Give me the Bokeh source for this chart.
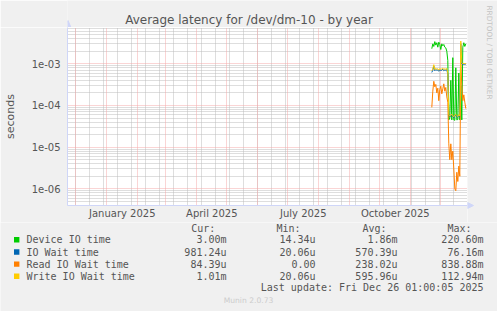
import math
from datetime import datetime, timedelta

import pandas as pd
from bokeh.plotting import figure
from bokeh.layouts import column, row
from bokeh.models import (FixedTicker, CustomJSTickFormatter, Range1d,
                          ColumnDataSource, Grid)
from bokeh.core.properties import value
from bokeh.embed import file_html
from bokeh.resources import INLINE

# ---------------- data ----------------
TITLE = "Average latency for /dev/dm-10 - by year"
Y_LABEL = "seconds"
LAST_UPDATE = "Last update: Fri Dec 26 01:00:05 2025"
VERSION = "Munin 2.0.73"
WATERMARK = "RRDTOOL / TOBI OETIKER"

dates = list(pd.date_range("2025-11-22", "2025-12-26", freq="D"))

device_io = [2.3e-3, 3.0e-3, 2.6e-3, 3.4e-3, 2.8e-3, 3.2e-3, 2.5e-3, 3.3e-3, 2.9e-3,
             2.2e-3, 3.0e-3, 2.7e-3, 2.9e-3, 2.5e-3, 2.4e-3, 2.0e-3, 1.2e-3, 4.5e-5,
             5.0e-5, 4.0e-4, 4.5e-5, 1.4e-3, 4.5e-5, 4.4e-5, 8.0e-4, 4.5e-5, 4.6e-5,
             6.0e-4, 4.5e-5, 3.0e-4, 4.5e-5, 2.5e-3, 3.2e-3, 2.6e-3, 3.0e-3]
io_wait = [6.2e-4, 7.0e-4, 8.8e-4, 6.8e-4, 7.3e-4, 7.0e-4, 7.1e-4, 6.6e-4, 7.2e-4,
           6.9e-4, 7.0e-4, 7.4e-4, 6.8e-4, 7.1e-4, 7.0e-4, 7.2e-4, 5.6e-4, 5.8e-5,
           5.3e-5, 5.6e-5, 6.0e-5, 5.4e-5, 5.1e-5, 5.7e-5, 5.9e-5, 5.5e-5, 5.2e-5,
           5.8e-5, 5.4e-5, 3.0e-3, 9.9e-4, 9.6e-4, 9.8e-4, 9.7e-4, 9.8e-4]
read_wait = [9.0e-5, 2.2e-4, 3.8e-4, 2.8e-4, 3.2e-4, 2.0e-4, 2.6e-4, 1.3e-4, 2.4e-4,
             2.9e-4, 1.9e-4, 2.5e-4, 3.3e-4, 2.2e-4, 2.7e-4, 1.6e-4, 1.2e-4, 1.2e-5,
             5.0e-6, 1.2e-5, 5.0e-6, 8.0e-6, 3.0e-6, 1.0e-6, 9.0e-7, 2.5e-6, 1.5e-6,
             3.5e-6, 2.0e-6, 1.0e-3, 3.0e-4, 1.3e-4, 1.8e-4, 1.2e-4, 8.4e-5]
write_wait = [6.8e-4, 7.5e-4, 9.5e-4, 7.2e-4, 7.8e-4, 7.4e-4, 7.6e-4, 7.0e-4, 7.7e-4,
              7.3e-4, 7.5e-4, 7.9e-4, 7.2e-4, 7.6e-4, 7.4e-4, 7.7e-4, 6.0e-4, 6.0e-5,
              5.5e-5, 5.8e-5, 6.2e-5, 5.6e-5, 5.3e-5, 5.9e-5, 6.1e-5, 5.7e-5, 5.4e-5,
              6.0e-5, 5.6e-5, 3.5e-3, 1.05e-3, 1.0e-3, 1.02e-3, 1.0e-3, 1.01e-3]

series_names = ["Device IO time", "IO Wait time", "Read IO Wait time", "Write IO Wait time"]
series_colors = ["#00CC00", "#0066B3", "#FF8000", "#FFCC00"]
series_values = [device_io, io_wait, read_wait, write_wait]
col_headers = ["Cur:", "Min:", "Avg:", "Max:"]
cur_vals = ["3.00m", "981.24u", "84.39u", "1.01m"]
min_vals = ["14.34u", "20.06u", "0.00", "20.06u"]
avg_vals = ["1.86m", "570.39u", "238.02u", "595.96u"]
max_vals = ["220.60m", "76.16m", "838.88m", "112.94m"]

y_tick_values = [1e-6, 1e-5, 1e-4, 1e-3]
y_tick_labels = ["1e-06", "1e-05", "1e-04", "1e-03"]
x_label_months = [(2025, 1), (2025, 4), (2025, 7), (2025, 10)]
x_tick_labels = ["January 2025", "April 2025", "July 2025", "October 2025"]

# ---------------- layout constants ----------------
W, H = 497, 311
FL, FR, FT, FB = 67, 467, 27, 205      # plot frame in page pixels
TOP_H = 222                             # height of title + chart block
FONT = "DejaVu Sans"
MONO = "DejaVu Sans Mono"
TXT = "#555555"
BG = "#F0F0F0"
AXIS = "#CFD6F8"
RED_GRID = "#F4AAAA"
GREY_GRID = "#BDBDBD"


def ms(d):
    return (d - datetime(1970, 1, 1)).total_seconds() * 1000.0


def strip(w, h, left=0):
    """A figure whose frame spans x page pixels [left, w] and y [0, h] (y up)."""
    f = figure(width=w, height=h, x_range=Range1d(left, w), y_range=Range1d(0, h),
               x_axis_type=None, y_axis_type=None, output_backend="svg",
               toolbar_location=None, title=None,
               min_border_left=left, min_border_right=0, min_border_top=0,
               min_border_bottom=0)
    f.grid.visible = False
    f.background_fill_color = BG
    f.border_fill_color = BG
    f.outline_line_color = None
    return f


# ---------------- main chart ----------------
x_start = datetime(2024, 12, 1) - timedelta(days=8.3)
x_end = x_start + timedelta(days=400)
y_lo, y_hi = 10 ** -6.40, 10 ** -2.13

p = figure(width=FR, height=TOP_H - FT, x_axis_type="datetime", y_axis_type="log",
           x_range=Range1d(x_start, x_end), y_range=Range1d(y_lo, y_hi),
           output_backend="svg", toolbar_location=None, title=None,
           min_border_left=FL, min_border_right=0,
           min_border_top=0, min_border_bottom=TOP_H - FB)
p.background_fill_color = "#FFFFFF"
p.border_fill_color = BG
p.outline_line_color = None

month_starts = []
yy, mm = 2024, 11
while (yy, mm) <= (2025, 12):
    month_starts.append(ms(datetime(yy, mm, 1)))
    mm += 1
    if mm > 12:
        yy, mm = yy + 1, 1
biweekly = []
d = datetime(2024, 11, 17)
while d < datetime(2026, 1, 1):
    biweekly.append(ms(d))
    d += timedelta(days=14)
minor_y = [k * 10 ** e for e in range(-7, -1) for k in range(2, 10)]

p.xgrid.visible = False
p.ygrid.visible = False
# minor (grey) grids first, major (red) grids on top
p.add_layout(Grid(dimension=0, ticker=FixedTicker(ticks=biweekly),
                  grid_line_color=GREY_GRID, grid_line_dash="1 1"))
p.add_layout(Grid(dimension=1, ticker=FixedTicker(ticks=minor_y),
                  grid_line_color=GREY_GRID, grid_line_dash="1 1"))
p.add_layout(Grid(dimension=0, ticker=FixedTicker(ticks=month_starts),
                  grid_line_color=RED_GRID, grid_line_dash="1 1"))
p.add_layout(Grid(dimension=1, ticker=FixedTicker(ticks=y_tick_values),
                  grid_line_color=RED_GRID, grid_line_dash="1 1"))

ya = p.yaxis[0]
ya.ticker = FixedTicker(ticks=y_tick_values)
ya.formatter = CustomJSTickFormatter(args=dict(vals=y_tick_values, labs=y_tick_labels), code="""
let b = 0, dm = 1e9;
for (let i = 0; i < vals.length; i++) {
  const q = Math.abs(Math.log10(tick) - Math.log10(vals[i]));
  if (q < dm) { dm = q; b = i; }
}
return labs[b];
""")
ya.axis_line_color = AXIS
ya.major_tick_line_color = None
ya.minor_tick_line_color = None
ya.major_tick_out = 0
ya.major_tick_in = 0
ya.major_label_standoff = 7
ya.major_label_text_font = FONT
ya.major_label_text_font_size = "10px"
ya.major_label_text_color = TXT
ya.axis_label = Y_LABEL
ya.axis_label_text_font = FONT
ya.axis_label_text_font_style = "normal"
ya.axis_label_text_font_size = "11px"
ya.axis_label_text_color = TXT
ya.axis_label_standoff = 12

x_ticks = []
for (ty, tm) in x_label_months:
    a = datetime(ty, tm, 1)
    b = datetime(ty + (tm // 12), tm % 12 + 1, 1)
    x_ticks.append((ms(a) + ms(b)) / 2)
xa = p.xaxis[0]
xa.ticker = FixedTicker(ticks=x_ticks)
xa.formatter = CustomJSTickFormatter(args=dict(vals=x_ticks, labs=x_tick_labels), code="""
let b = 0, dm = 1e18;
for (let i = 0; i < vals.length; i++) {
  const q = Math.abs(tick - vals[i]);
  if (q < dm) { dm = q; b = i; }
}
return labs[b];
""")
xa.axis_line_color = AXIS
xa.major_tick_line_color = None
xa.minor_tick_line_color = None
xa.major_tick_out = 0
xa.major_tick_in = 0
xa.major_label_standoff = 2
xa.major_label_text_font = FONT
xa.major_label_text_font_size = "10px"
xa.major_label_text_color = TXT

for name, col, vals in zip(series_names, series_colors, series_values):
    src = ColumnDataSource(dict(x=dates, y=vals))
    p.line("x", "y", source=src, line_color=col, line_width=1)

# ---------------- title strip (above chart, frame aligned with the chart) ----------------
t = strip(FR, FT, left=FL)
t.text(x=[248.5], y=[FT - 19], text=[TITLE], text_align="center", text_baseline="middle",
       text_font=value(FONT), text_font_size="12px", text_color=TXT)
t.patch([FL - 3, FL + 3.5, FL + 0.5], [0, 0, FT - 20], fill_color=AXIS, line_color=AXIS)

# ---------------- right strip (watermark, x-axis arrow head) ----------------
RW = W - FR
r = strip(RW, TOP_H)
r.text(x=[489 - FR], y=[TOP_H - 5], text=[WATERMARK], text_align="left",
       text_baseline="middle", angle=-math.pi / 2, text_font=value(FONT),
       text_font_size="7.3px", text_color="#C4C4C4")
r.patch([0, 0, 6], [TOP_H - FB + 3, TOP_H - FB - 3, TOP_H - FB],
        fill_color=AXIS, line_color=AXIS)

# ---------------- legend strip (below) ----------------
LH = H - TOP_H
g = strip(W, LH)


def gy(cy):
    return H - cy


header_x = [190.7, 276, 362, 447]
g.text(x=header_x, y=[gy(228.3)] * 4, text=col_headers, text_align="left",
       text_baseline="middle", text_font=value(MONO), text_font_size="10px",
       text_color=TXT)
rows_y = [239.3, 251.5, 263.6, 275.7]
g.rect(x=[16.2] * 4, y=[gy(v) for v in rows_y], width=5.4, height=5.4,
       fill_color=series_colors, line_color=None)
g.text(x=[26] * 4, y=[gy(v) for v in rows_y], text=series_names, text_align="left",
       text_baseline="middle", text_font=value(MONO), text_font_size="10px",
       text_color=TXT)
col_right = [226, 315, 397, 483]
for cr, arr in zip(col_right, [cur_vals, min_vals, avg_vals, max_vals]):
    g.text(x=[cr] * 4, y=[gy(v) for v in rows_y], text=arr, text_align="right",
           text_baseline="middle", text_font=value(MONO), text_font_size="10px",
           text_color=TXT)
g.text(x=[483], y=[gy(287.4)], text=[LAST_UPDATE], text_align="right",
       text_baseline="middle", text_font=value(MONO), text_font_size="10px",
       text_color=TXT)
g.text(x=[248], y=[gy(300.3)], text=[VERSION], text_align="center",
       text_baseline="middle", text_font=value(FONT), text_font_size="7.6px",
       text_color="#CCCCCC")

layout = column(row(column(t, p, spacing=0), r, spacing=0), g, spacing=0)
open("out.html", "w").write(file_html(layout, INLINE))
